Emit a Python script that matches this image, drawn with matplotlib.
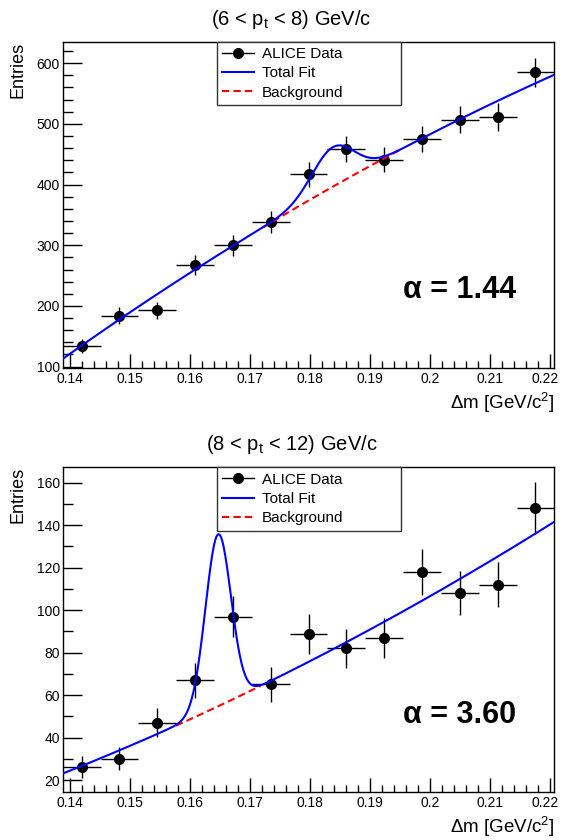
import numpy as np
import matplotlib
matplotlib.use("Agg")
from matplotlib import pyplot as plt
from matplotlib.ticker import MultipleLocator, FuncFormatter
from matplotlib.lines import Line2D
from matplotlib.transforms import ScaledTranslation

plt.rcParams['font.family'] = ['Liberation Sans', 'DejaVu Sans']
plt.rcParams['mathtext.fontset'] = 'custom'
plt.rcParams['mathtext.rm'] = 'Liberation Sans'
plt.rcParams['mathtext.it'] = 'Liberation Sans'

# histogram binning (13 bins)
x_lo = 0.1388
x_hi = 0.2207
nbins = 13

# bin contents
counts_6_8 = [134, 184, 193, 268, 300, 338, 417, 459, 441, 475, 507, 511, 585]
counts_8_12 = [26, 30, 47, 67, 97, 65, 89, 82, 87, 118, 108, 112, 148]

# fit: quadratic background in u=(dm-0.14)/0.01 plus gaussian peak
bg_6_8 = [121.1, 69.9, -1.6]
bg_8_12 = [24.4, 11.3, 0.4]
peak_6_8 = [65.0, 0.1838, 0.0035]     # amplitude, mean, sigma
peak_8_12 = [81.0, 0.1647, 0.00212]

titles = ["(6 < $\\mathregular{p_t}$ < 8) GeV/c", "(8 < $\\mathregular{p_t}$ < 12) GeV/c"]
alphas = ["\u03b1 = 1.44", "\u03b1 = 3.60"]
ylims = [(98.5, 635.5), (14.5, 167.3)]
ymajor = [100, 20]
yminor = [20, 10]


def background(x, c):
    u = (x - 0.14) / 0.01
    return c[0] + c[1] * u + c[2] * u ** 2


def gaus(x, p):
    return p[0] * np.exp(-0.5 * ((x - p[1]) / p[2]) ** 2)


def xfmt(v, pos):
    s = "%.2f" % v
    if s.endswith("0"):
        s = s[:-1]
    return s


fig = plt.figure(figsize=(5.61, 8.4), dpi=100)
axes_rects = [[0.1118, 0.5625, 0.8763, 0.3879], [0.1118, 0.0575, 0.8763, 0.3862]]
title_y = [0.991, 0.485]
xlab_y = [0.5345, 0.0298]
entries_y = [0.950, 0.4437]

edges = np.linspace(x_lo, x_hi, nbins + 1)
centers = 0.5 * (edges[:-1] + edges[1:])
half = 0.5 * (edges[1] - edges[0])
xx = np.linspace(x_lo, x_hi, 600)

datasets = [(counts_6_8, bg_6_8, peak_6_8), (counts_8_12, bg_8_12, peak_8_12)]
axs = []

for i, (counts, bgp, pk) in enumerate(datasets):
    ax = fig.add_axes(axes_rects[i])
    axs.append(ax)
    counts = np.array(counts, dtype=float)
    ax.errorbar(centers, counts, xerr=half, yerr=np.sqrt(counts), fmt='o',
                color='black', ms=7, elinewidth=1.0, capsize=0, zorder=2)
    # background drawn only in signal region
    xs = xx[(xx > pk[1] - 3.35 * pk[2]) & (xx < pk[1] + 3.35 * pk[2])]
    ax.plot(xs, background(xs, bgp), color='red', lw=1.5, dashes=(3.5, 2), zorder=3)
    ax.plot(xx, background(xx, bgp) + gaus(xx, pk), color='blue', lw=1.5, zorder=4)

    ax.set_xlim(x_lo, x_hi)
    ax.set_ylim(*ylims[i])
    ax.xaxis.set_major_locator(MultipleLocator(0.01))
    ax.xaxis.set_minor_locator(MultipleLocator(0.002))
    ax.xaxis.set_major_formatter(FuncFormatter(xfmt))
    ax.yaxis.set_major_locator(MultipleLocator(ymajor[i]))
    ax.yaxis.set_minor_locator(MultipleLocator(yminor[i]))
    ax.tick_params(which='both', direction='in', top=False, right=False,
                   labelsize=10, width=1.0)
    ax.tick_params(axis='y', which='major', length=14, pad=2)
    ax.tick_params(axis='y', which='minor', length=7)
    ax.tick_params(axis='x', which='major', length=10, pad=3)
    ax.tick_params(axis='x', which='minor', length=5)
    for sp in ax.spines.values():
        sp.set_linewidth(1.0)

    handles = [Line2D([], [], color='black', marker='o', ms=7, lw=1.0),
               Line2D([], [], color='blue', lw=1.5),
               Line2D([], [], color='red', lw=1.5, dashes=(3.5, 2))]
    leg = ax.legend(handles, ["ALICE Data", "Total Fit", "Background"],
                    loc='upper left', bbox_to_anchor=(0.313, 1.0, 0.375, 0.0),
                    mode='expand', borderaxespad=0, fontsize=11, fancybox=False,
                    framealpha=1, edgecolor='#333333', handlelength=2.1,
                    labelspacing=0.35, borderpad=0.35, handletextpad=0.5)
    leg.get_frame().set_linewidth(1.0)

    ax.text(0.693, 0.212, alphas[i], transform=ax.transAxes, fontsize=22,
            fontweight='bold', ha='left', va='baseline')

    fig.text(0.52, title_y[i], titles[i], ha='center', va='top', fontsize=14.5)
    fig.text(0.989, xlab_y[i], "\u0394m [GeV/c$\\mathregular{^2}$]", ha='right',
             va='top', fontsize=13.5)
    fig.text(0.032, entries_y[i], "Entries", rotation=90, ha='center', va='top',
             fontsize=13)

# nudge the last x label so it stays inside the canvas
fig.canvas.draw()
shift = ScaledTranslation(-5 / 100, 0, fig.dpi_scale_trans)
for ax in axs:
    for tick in ax.xaxis.get_major_ticks():
        if abs(tick.get_loc() - 0.22) < 1e-6:
            tick.label1.set_transform(tick.label1.get_transform() + shift)

fig.savefig("out.png", dpi=100)
